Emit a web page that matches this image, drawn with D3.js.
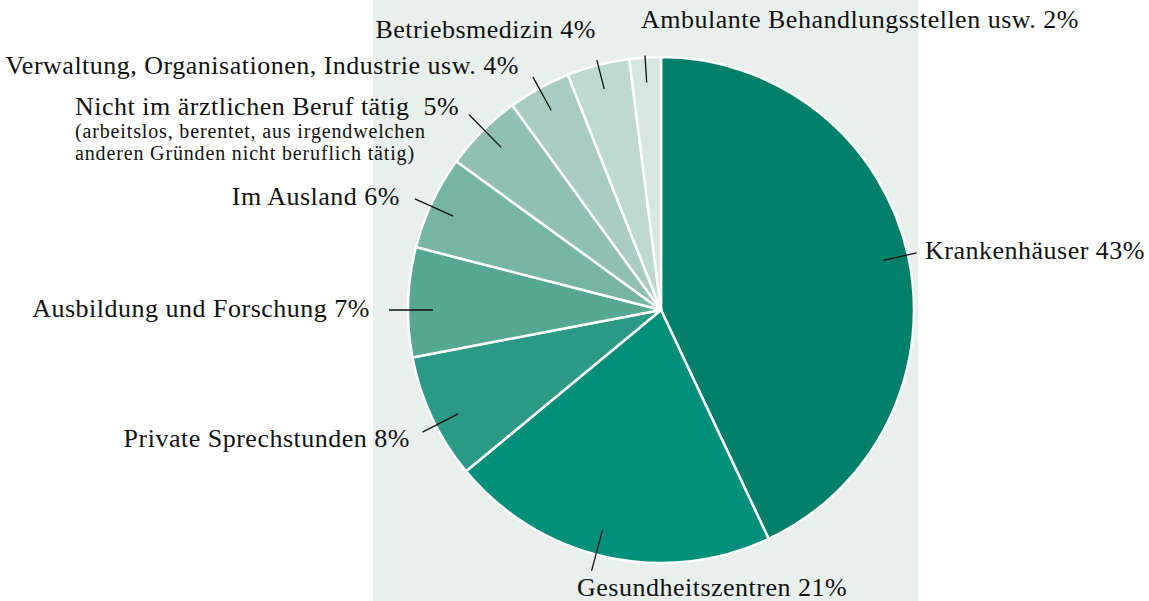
<!DOCTYPE html>
<html lang="de">
<head>
<meta charset="utf-8">
<title>Ärzte nach Tätigkeitsbereich</title>
<script src="https://d3js.org/d3.v7.min.js"></script>
<style>
  body { margin: 0; background: white; }
  svg { display: block; }
  text { font-family: "Liberation Serif", "DejaVu Serif", serif; fill: #111; white-space: pre; }
</style>
</head>
<body>
<svg id="chart" width="1149" height="601"></svg>
<script>
// data
const categories = [
  "Krankenhäuser", "Gesundheitszentren", "Private Sprechstunden",
  "Ausbildung und Forschung", "Im Ausland", "Nicht im ärztlichen Beruf tätig ",
  "Verwaltung, Organisationen, Industrie usw.", "Betriebsmedizin",
  "Ambulante Behandlungsstellen usw."
];
const shares = [43, 21, 8, 7, 6, 5, 4, 4, 2];
const colors = ["#00806b", "#008f7a", "#2a9a86", "#56a794", "#76b4a3",
                "#90c0b3", "#a8ccc2", "#bed9d0", "#d6e6e0"];
const notes = ["", "", "", "", "",
  "(arbeitslos, berentet, aus irgendwelchen\nanderen Gründen nicht beruflich tätig)",
  "", "", ""];

// label layout: text anchor point, alignment, leader length, leader angle tweak (deg)
const labelPos = [
  {x: 925, y: 259, anchor: "start", out: 262, da: 0},
  {x: 577, y: 596, anchor: "start", out: 270, da: 2.3},
  {x: 410, y: 447, anchor: "end",   out: 268, da: -1.9},
  {x: 370, y: 317, anchor: "end",   out: 272, da: -1.8},
  {x: 400, y: 205, anchor: "end",   out: 270, da: -0.9},
  {x: 75,  y: 115, anchor: "start", out: 274, da: 0.5},
  {x: 519, y: 74,  anchor: "end",   out: 266, da: 0},
  {x: 596, y: 38,  anchor: "end",   out: 258, da: 0},
  {x: 641, y: 28,  anchor: "start", out: 255, da: 0}
];

const svg = d3.select("#chart");
const cx = 661, cy = 310, radius = 253;

// pale panel behind the pie
svg.append("rect")
  .attr("x", 373).attr("y", 0)
  .attr("width", 545).attr("height", 601)
  .attr("fill", "#e9efed");

const data = categories.map((c, i) => ({name: c, value: shares[i], idx: i}));

const pie = d3.pie().sort(null).value(d => d.value);
const arcs = pie(data);
const arc = d3.arc().innerRadius(0).outerRadius(radius);

const g = svg.append("g").attr("transform", `translate(${cx},${cy})`);

g.selectAll("path")
  .data(arcs)
  .join("path")
  .attr("d", arc)
  .attr("fill", d => colors[d.data.idx])
  .attr("stroke", "white")
  .attr("stroke-width", 2.5)
  .attr("stroke-linejoin", "round");

// leader lines
g.selectAll("line")
  .data(arcs)
  .join("line")
  .each(function(d) {
    const p = labelPos[d.data.idx];
    const a = (d.startAngle + d.endAngle) / 2 + p.da * Math.PI / 180;
    const r0 = 228, r1 = p.out;
    d3.select(this)
      .attr("x1", r0 * Math.sin(a)).attr("y1", -r0 * Math.cos(a))
      .attr("x2", r1 * Math.sin(a)).attr("y2", -r1 * Math.cos(a));
  })
  .attr("stroke", "#111")
  .attr("stroke-width", 1.3);

// labels
data.forEach((d, i) => {
  const p = labelPos[i];
  svg.append("text")
    .attr("x", p.x).attr("y", p.y)
    .attr("text-anchor", p.anchor)
    .attr("font-size", 26)
    .attr("letter-spacing", 0.5)
    .text(d.name + " " + d.value + "%");
  if (notes[i]) {
    notes[i].split("\n").forEach((line, k) => {
      svg.append("text")
        .attr("x", p.x).attr("y", p.y + 23 + k * 22)
        .attr("text-anchor", p.anchor)
        .attr("font-size", 20)
        .attr("letter-spacing", 0.85)
        .text(line);
    });
  }
});
</script>
</body>
</html>
